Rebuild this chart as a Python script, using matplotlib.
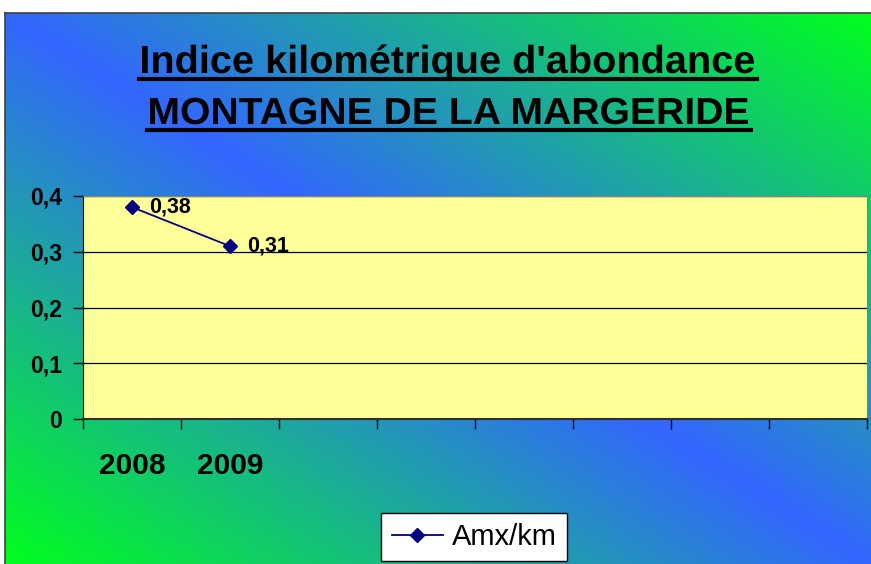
import numpy as np
import matplotlib
matplotlib.use('Agg')
import matplotlib.pyplot as plt
from matplotlib.lines import Line2D
from matplotlib.textpath import TextPath
from matplotlib.patches import PathPatch
from matplotlib.font_manager import FontProperties
from matplotlib.transforms import Affine2D

years = ['2008', '2009', '', '', '', '', '', '']
amx_km = [0.38, 0.31]
labels = ['0,38', '0,31']
yticks = [0, 0.1, 0.2, 0.3, 0.4]
ytick_labels = ['0', '0,1', '0,2', '0,3', '0,4']
title_lines = ["Indice kilométrique d'abondance", "MONTAGNE DE LA MARGERIDE"]

W, H = 871, 564
fig = plt.figure(figsize=(W / 100, H / 100), dpi=100, facecolor='white')

# gradient background (blue band along the diagonal, green towards two corners)
bg = fig.add_axes([5 / W, 0, 1 - 5 / W, (H - 13) / H])
yy, xx = np.mgrid[0:1:300j, 0:1:460j]
t = np.clip(np.abs(xx - yy), 0, 1)
blue = np.array([51, 102, 255]) / 255
green = np.array([0, 255, 30]) / 255
img = blue[None, None, :] * (1 - t[..., None]) + green[None, None, :] * t[..., None]
bg.imshow(img, aspect='auto', extent=[0, 1, 0, 1], origin='upper')
bg.set_xlim(0, 1)
bg.set_ylim(0, 1)
bg.set_xticks([])
bg.set_yticks([])
for s in bg.spines.values():
    s.set_color('#404040')
    s.set_linewidth(1.2)
bg.spines['bottom'].set_visible(False)
bg.spines['right'].set_visible(False)

# plot area
x0, x1, y0, y1 = 83, 867, 196, 419
ax = fig.add_axes([x0 / W, 1 - y1 / H, (x1 - x0) / W, (y1 - y0) / H])
ax.set_facecolor('#FFFF99')
xs = np.arange(len(amx_km)) + 0.5
ax.plot(xs, amx_km, color='#000080', marker='D', markersize=7, linewidth=1.3, label='Amx/km')
for x, v, lab in zip(xs, amx_km, labels):
    ax.annotate(lab, (x, v), xytext=(12, 0), textcoords='offset points', va='center',
                fontsize=15.5, fontweight='bold', family='Liberation Sans')
ax.set_xlim(0, len(years))
ax.set_ylim(0, 0.4)
ax.set_yticks(yticks)
ax.set_yticklabels(ytick_labels, fontsize=16.5, fontweight='bold', family='Liberation Sans')
ax.set_xticks(np.arange(len(years) + 1))
ax.set_xticklabels([])
ax.tick_params(axis='both', direction='out', length=7, width=1, color='black')
ax.tick_params(axis='y', pad=8)
for i, yr in enumerate(years):
    if yr:
        ax.text(i + 0.5, -47 / 223 * 0.4, yr, ha='center', va='center', fontsize=21.5,
                fontweight='bold', family='Liberation Sans', clip_on=False)
ax.grid(axis='y', color='black', linewidth=0.9)
ax.set_axisbelow(True)
ax.spines['top'].set_color('#808080')
ax.spines['right'].set_color('#808080')
ax.spines['left'].set_color('black')
ax.spines['bottom'].set_color('#303030')
ax.spines['bottom'].set_linewidth(1.5)

# legend
leg = fig.legend(loc='upper center', bbox_to_anchor=(474 / W, 1 - 513 / H), frameon=True, fancybox=False,
                 prop={'family': 'Liberation Sans', 'size': 21}, handlelength=1.75,
                 handletextpad=0.3, borderpad=0.35, borderaxespad=0)
leg.get_frame().set_edgecolor('black')
leg.get_frame().set_facecolor('white')
leg.get_frame().set_alpha(1)
leg.get_frame().set_linewidth(1)

# title: bold text, underlined
fp = FontProperties(family='Liberation Sans', weight='bold')
for line, base, uy, cap, xl, xr in zip(title_lines, [73, 124], [79, 130], [28, 27],
                                       [142, 150], [754, 748]):
    size = cap / 0.716
    tp = TextPath((0, 0), line, size=size, prop=fp)
    ext = tp.get_extents()
    sx = (xr - xl) / ext.width
    tr = Affine2D().translate(-ext.x0, 0).scale(sx, 1.0).translate(xl, H - base)
    fig.add_artist(PathPatch(tr.transform_path(tp), facecolor='black', edgecolor='none',
                             transform=None))
    fig.add_artist(Line2D([(xl - 3) / W, (xr + 3) / W], [1 - uy / H, 1 - uy / H],
                          color='black', linewidth=3, transform=fig.transFigure))

fig.savefig('out.png', dpi=100, facecolor='white')
